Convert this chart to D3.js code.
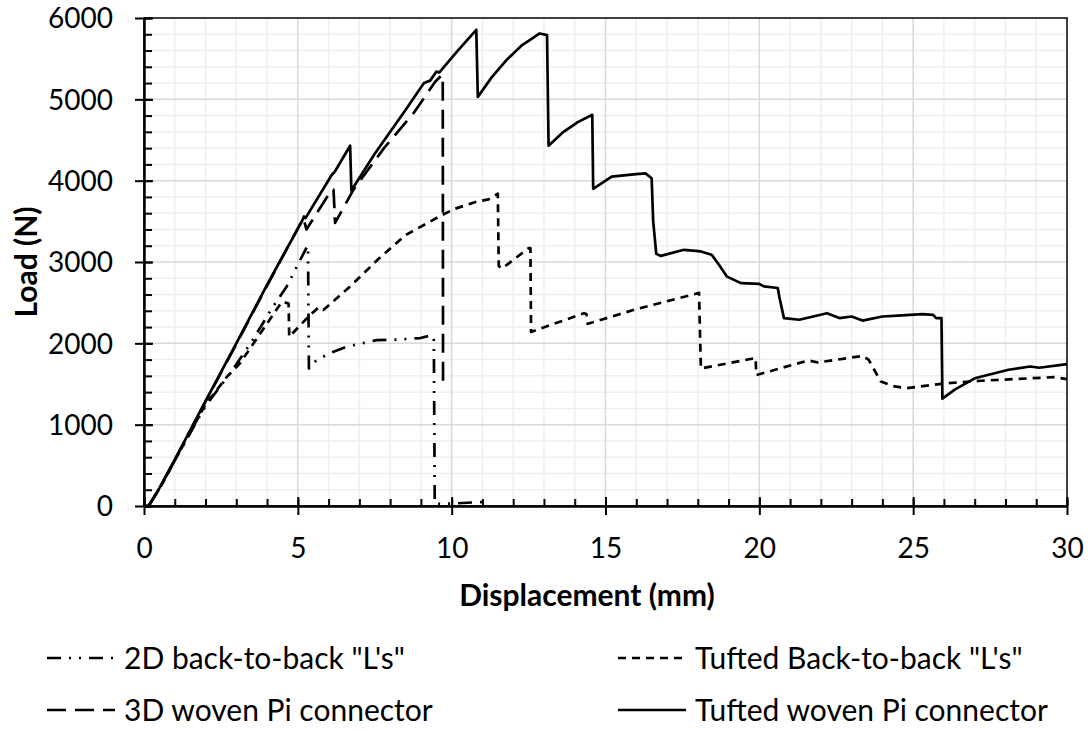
<!DOCTYPE html>
<html>
<head>
<meta charset="utf-8">
<script src="https://cdn.jsdelivr.net/npm/d3@7"></script>
<style>
  body { margin: 0; background: #fff; }
  svg text { font-family: Lato, "Open Sans", sans-serif; fill: #000; }
</style>
</head>
<body>
<svg width="1091" height="733"></svg>
<script>
// Series: [displacement mm, load N]
const tuftedPi = [
	[0, 0], [0.15, 0], [0.5, 220], [1, 570], [2, 1290], [3, 2000], [4, 2720], [5.13, 3500], [5.2, 3560],
	[5.25, 3540], [6.1, 4070], [6.2, 4110], [6.7, 4430], [6.74, 3880], [7.5, 4330], [8.5, 4870],
	[9.1, 5200], [9.3, 5230], [9.5, 5340], [9.6, 5330], [10.2, 5600], [10.8, 5855], [10.85, 5030],
	[11.3, 5270], [11.8, 5490], [12.3, 5670], [12.5, 5720], [12.86, 5810], [13.1, 5790], [13.15, 4430],
	[13.6, 4590], [14.1, 4720], [14.57, 4810], [14.6, 3900], [15.2, 4050], [16.0, 4080], [16.3, 4090],
	[16.5, 4030], [16.55, 3500], [16.65, 3100], [16.8, 3075], [17.55, 3150], [18.1, 3130], [18.45, 3090],
	[18.7, 2960], [18.95, 2820], [19.4, 2740], [20.0, 2730], [20.15, 2700], [20.6, 2680], [20.65, 2570],
	[20.8, 2310], [21.3, 2290], [22.2, 2370], [22.6, 2310], [23.0, 2330], [23.35, 2280], [24.0, 2330],
	[24.5, 2340], [25.3, 2360], [25.65, 2350], [25.75, 2310], [25.92, 2310], [25.95, 1320], [26.35, 1430],
	[27.0, 1570], [28.1, 1675], [28.8, 1715], [29.1, 1700], [30, 1745]
]
const tuftedL = [
	[0, 0], [0.15, 0], [0.5, 210], [1, 560], [2, 1250], [2.7, 1590], [3.12, 1755], [4.48, 2510],
	[4.6, 2500], [4.7, 2490], [4.72, 2080], [5.4, 2350], [5.67, 2440], [5.83, 2410], [6.7, 2700],
	[7.6, 3030], [8.5, 3330], [9.6, 3560], [10.07, 3650], [10.8, 3740], [11.2, 3770], [11.5, 3840],
	[11.53, 2950], [11.64, 2920], [12.5, 3170], [12.56, 3170], [12.58, 2140], [14.3, 2370], [14.38, 2360],
	[14.42, 2240], [16.0, 2420], [18.04, 2620], [18.1, 1690], [19.88, 1820], [19.9, 1610], [21.6, 1790],
	[21.9, 1765], [23.35, 1845], [23.55, 1800], [23.8, 1630], [23.95, 1530], [24.4, 1470], [24.8, 1450],
	[26.1, 1510], [27.2, 1540], [28.8, 1570], [29.6, 1585], [30, 1560]
]
const woven3D = [
	[0, 0], [0.15, 0], [0.5, 215], [1, 565], [2, 1285], [3, 1990], [4, 2710], [5.18, 3540],
	[5.28, 3400], [6.1, 3890], [6.16, 3890], [6.21, 3480], [6.81, 3890], [7.8, 4400], [8.76, 4830],
	[9.47, 5220], [9.69, 5300], [9.71, 5290], [9.72, 1465]
]
const backToBack2D = [
	[0, 0], [0.15, 0], [0.5, 210], [1, 560], [2, 1230], [2.8, 1632], [3.5, 2020], [4.16, 2432],
	[4.64, 2700], [5.3, 3190], [5.33, 3200], [5.36, 1690], [5.6, 1790], [6.05, 1880], [6.6, 1960],
	[7.57, 2040], [8.22, 2045], [8.98, 2065], [9.36, 2100], [9.42, 2040], [9.45, 30], [9.63, 25],
	[10.0, 30], [11.04, 50]
]

const seriesNames = ['2D back-to-back "L\'s"', 'Tufted Back-to-back "L\'s"', "3D woven Pi connector", "Tufted woven Pi connector"]
const seriesData = [backToBack2D, tuftedL, woven3D, tuftedPi]
const dashes = ["14,8,2,8,2,8", "8,6", "19,9", null]

const xTicks = [0, 5, 10, 15, 20, 25, 30]
const yTicks = [0, 1000, 2000, 3000, 4000, 5000, 6000]

const svg = d3.select("svg")
const plotLeft = 144, plotRight = 1067, plotTop = 18, plotBottom = 506

const x = d3.scaleLinear().domain([0, 30]).range([plotLeft, plotRight])
const y = d3.scaleLinear().domain([0, 6000]).range([plotBottom, plotTop])

// minor then major gridlines
const grid = svg.append("g")
grid.selectAll(".vminor")
	.data(d3.range(1, 30).filter(d => d % 5 != 0))
	.join("line")
	.attr("x1", d => x(d)).attr("x2", d => x(d))
	.attr("y1", plotTop).attr("y2", plotBottom)
	.attr("stroke", "#efefef").attr("stroke-width", 1.5)
grid.selectAll(".hminor")
	.data(d3.range(200, 6000, 200).filter(d => d % 1000 != 0))
	.join("line")
	.attr("y1", d => y(d)).attr("y2", d => y(d))
	.attr("x1", plotLeft).attr("x2", plotRight)
	.attr("stroke", "#efefef").attr("stroke-width", 1.5)
grid.selectAll(".vmajor")
	.data(xTicks.slice(1, -1))
	.join("line")
	.attr("x1", d => x(d)).attr("x2", d => x(d))
	.attr("y1", plotTop).attr("y2", plotBottom)
	.attr("stroke", "#d9d9d9").attr("stroke-width", 1.5)
grid.selectAll(".hmajor")
	.data(yTicks.slice(1, -1))
	.join("line")
	.attr("y1", d => y(d)).attr("y2", d => y(d))
	.attr("x1", plotLeft).attr("x2", plotRight)
	.attr("stroke", "#d9d9d9").attr("stroke-width", 1.5)

// plot border
svg.append("rect")
	.attr("x", plotLeft).attr("y", plotTop)
	.attr("width", plotRight - plotLeft).attr("height", plotBottom - plotTop)
	.attr("fill", "none").attr("stroke", "#000").attr("stroke-width", 1.5)

// axes: minor ticks inside, major ticks crossing
const xAxis = svg.append("g").attr("transform", `translate(0,${plotBottom})`)
xAxis.call(d3.axisBottom(x).tickValues(d3.range(0, 31)).tickSizeInner(-7).tickSizeOuter(0).tickFormat(""))
xAxis.call(g => g.selectAll(".tick line").attr("stroke-width", 2))
xAxis.append("g").call(d3.axisBottom(x).tickValues(xTicks).tickSize(9).tickFormat(d3.format("d")))
	.call(g => g.select(".domain").remove())
	.call(g => g.selectAll(".tick line").attr("y1", -9).attr("stroke-width", 2))
	.call(g => g.selectAll(".tick text").attr("font-size", 28).attr("y", 0).attr("dy", 52).attr("font-family", null))
xAxis.select(".domain").attr("stroke-width", 2.5)

const yAxis = svg.append("g").attr("transform", `translate(${plotLeft},0)`)
yAxis.call(d3.axisLeft(y).tickValues(d3.range(0, 6001, 200)).tickSizeInner(-8).tickSizeOuter(0).tickFormat(""))
yAxis.call(g => g.selectAll(".tick line").attr("stroke-width", 2))
yAxis.append("g").call(d3.axisLeft(y).tickValues(yTicks).tickSize(9).tickFormat(d3.format("d")))
	.call(g => g.select(".domain").remove())
	.call(g => g.selectAll(".tick line").attr("x1", 9).attr("stroke-width", 2))
	.call(g => g.selectAll(".tick text").attr("font-size", 28).attr("x", -31).attr("dy", "0.35em").attr("font-family", null))
yAxis.select(".domain").attr("stroke-width", 2.5)

// series
const line = d3.line().x(d => x(d[0])).y(d => y(d[1]))
svg.append("g")
	.selectAll("path")
	.data(seriesData)
	.join("path")
	.attr("d", line)
	.attr("fill", "none")
	.attr("stroke", "#000")
	.attr("stroke-width", 2.7)
	.attr("stroke-linejoin", "round")
	.attr("stroke-dasharray", (d, i) => dashes[i])

// axis titles
svg.append("text")
	.attr("x", 587).attr("y", 606)
	.attr("text-anchor", "middle")
	.attr("font-size", 30).attr("font-weight", "bold")
	.text("Displacement (mm)")
svg.append("text")
	.attr("transform", "translate(37,262) rotate(-90)")
	.attr("text-anchor", "middle")
	.attr("font-size", 30).attr("font-weight", "bold")
	.text("Load (N)")

// legend, two columns
const legendPos = [[47, 658], [618, 658], [47, 710], [618, 710]]
const legend = svg.append("g")
legend.selectAll("line")
	.data(seriesNames)
	.join("line")
	.attr("x1", (d, i) => legendPos[i][0])
	.attr("x2", (d, i) => legendPos[i][0] + 68)
	.attr("y1", (d, i) => legendPos[i][1])
	.attr("y2", (d, i) => legendPos[i][1])
	.attr("stroke", "#000")
	.attr("stroke-width", 2.7)
	.attr("stroke-dasharray", (d, i) => dashes[i])
legend.selectAll("text")
	.data(seriesNames)
	.join("text")
	.attr("x", (d, i) => legendPos[i][0] + 77)
	.attr("y", (d, i) => legendPos[i][1] + 11)
	.attr("font-size", 30)
	.text(d => d)
</script>
</body>
</html>
